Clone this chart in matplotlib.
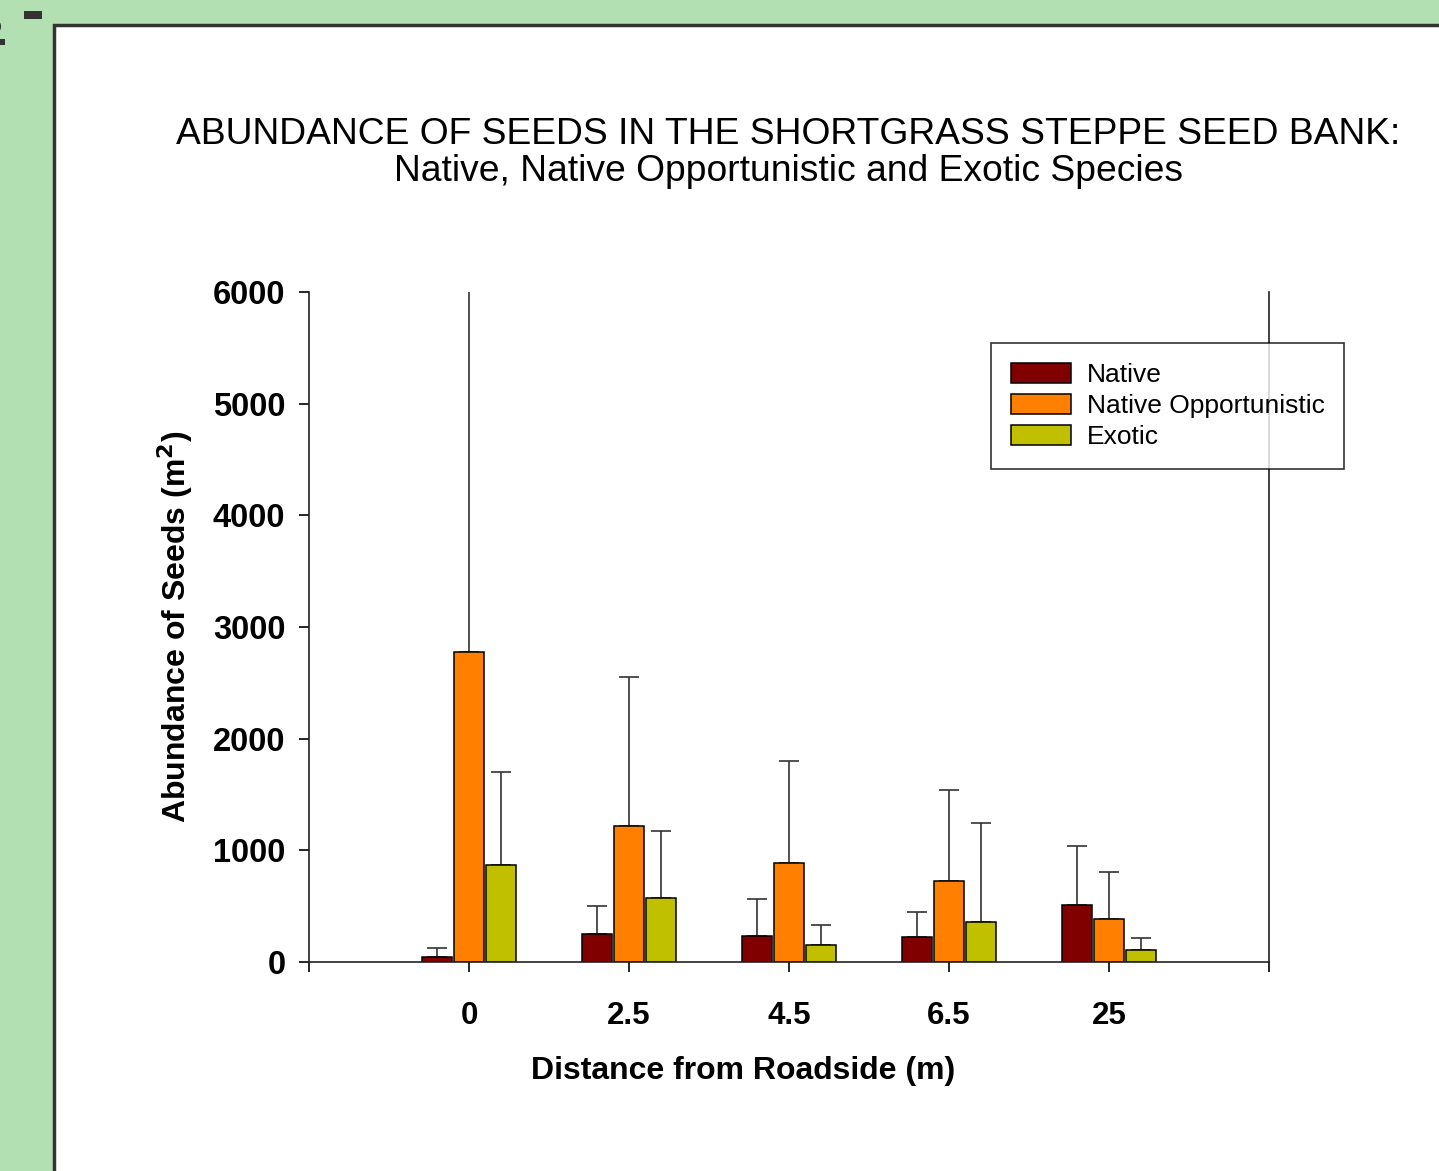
#!/usr/bin/env python3
"""Seed bank abundance by distance from roadside, grouped bars with upper error bars."""

import matplotlib

matplotlib.use("Agg")
import matplotlib.pyplot as plt
from matplotlib.patches import Rectangle
import numpy as np

plt.rcParams["font.family"] = ["Liberation Sans", "DejaVu Sans"]

distances = ["0", "2.5", "4.5", "6.5", "25"]
series = ["Native", "Native Opportunistic", "Exotic"]
native = [45, 250, 233, 224, 513]
native_err = [80, 251, 331, 224, 528]
opportunistic = [2780, 1218, 887, 725, 382]
opportunistic_err = [3500, 1334, 913, 815, 421]
exotic = [869, 573, 152, 358, 107]
exotic_err = [831, 600, 179, 887, 108]
colors = ["#800000", "#ff8000", "#c0c000"]

W, H = 1439, 1171
fig = plt.figure(figsize=(W / 100, H / 100), dpi=100, facecolor="#b3e0b3")

# white panel with dark border, cut off at right/bottom
fig.patches.append(Rectangle((54 / W, -0.05), 1.2, 1 - 25 / H + 0.05,
                             transform=fig.transFigure, facecolor="white",
                             edgecolor="#333333", linewidth=2.5, zorder=-10))
# stray marks in the corner
fig.patches.append(Rectangle((24 / W, 1 - 19 / H), 18 / W, 8 / H,
                             transform=fig.transFigure, facecolor="#333333",
                             edgecolor="none", zorder=-5))
fig.patches.append(Rectangle((0, 1 - 45 / H), 5 / W, 6 / H,
                             transform=fig.transFigure, facecolor="#333333",
                             edgecolor="none", zorder=-5))
fig.text(-0.004, 1 - 24 / H, "5", rotation=90, fontsize=20, color="#333333",
         ha="center", va="center")

ax = fig.add_axes([309 / W, 1 - 962 / H, 960 / W, 670 / H])
ax.set_facecolor("white")

x = np.arange(1, len(distances) + 1)
offsets = [-0.2, 0.0, 0.2]
values = [native, opportunistic, exotic]
errs = [native_err, opportunistic_err, exotic_err]
for vals, err, off, col, lab in zip(values, errs, offsets, colors, series):
    ax.bar(x + off, vals, width=0.185, color=col, edgecolor="black",
           linewidth=1.1, label=lab, zorder=2)
    ax.errorbar(x + off, vals, yerr=[np.zeros(len(vals)), err], fmt="none",
                ecolor="#333333", elinewidth=1.2, capsize=7, capthick=1.2,
                zorder=1)

ax.set_xlim(0, 6)
ax.set_ylim(0, 6000)
ax.set_xticks(list(range(0, 7)))
ax.set_xticklabels([""] + distances + [""])
ax.set_yticks(range(0, 6001, 1000))
ax.tick_params(axis="x", direction="out", length=7, width=1.2, pad=21,
               labelsize=22.5)
ax.tick_params(axis="y", direction="out", length=7, width=1.2, pad=10,
               labelsize=23.5)
for lbl in ax.get_xticklabels() + ax.get_yticklabels():
    lbl.set_fontweight("bold")
ax.spines["top"].set_visible(False)
for s in ["left", "right", "bottom"]:
    ax.spines[s].set_linewidth(1.2)
    ax.spines[s].set_color("#222222")

ax.set_xlabel("Distance from Roadside (m)", fontsize=23, fontweight="bold")
ax.xaxis.set_label_coords((743 - 309) / 960, -(1071 - 962) / 670)
ax.xaxis.label.set_va("center")
ax.set_ylabel("Abundance of Seeds (m$^\\mathbf{2}$)", fontsize=23,
              fontweight="bold")
ax.yaxis.set_label_coords(-(309 - 175) / 960, (962 - 627) / 670)
ax.yaxis.label.set_va("center")

leg = ax.legend(loc="upper left", bbox_to_anchor=((991 - 309) / 960, (962 - 343) / 670),
                fontsize=19, frameon=True, fancybox=False, handlelength=2.27,
                handleheight=0.8, labelspacing=0.25, borderpad=0.75,
                handletextpad=0.6, borderaxespad=0)
leg.get_frame().set_edgecolor("black")
leg.get_frame().set_linewidth(1.2)

fig.text(788 / W, 1 - 153 / H,
         "ABUNDANCE OF SEEDS IN THE SHORTGRASS STEPPE SEED BANK:\n"
         "Native, Native Opportunistic and Exotic Species",
         ha="center", va="center", fontsize=26.8, linespacing=1.07)

fig.savefig("out.png", dpi=100, facecolor=fig.get_facecolor())
